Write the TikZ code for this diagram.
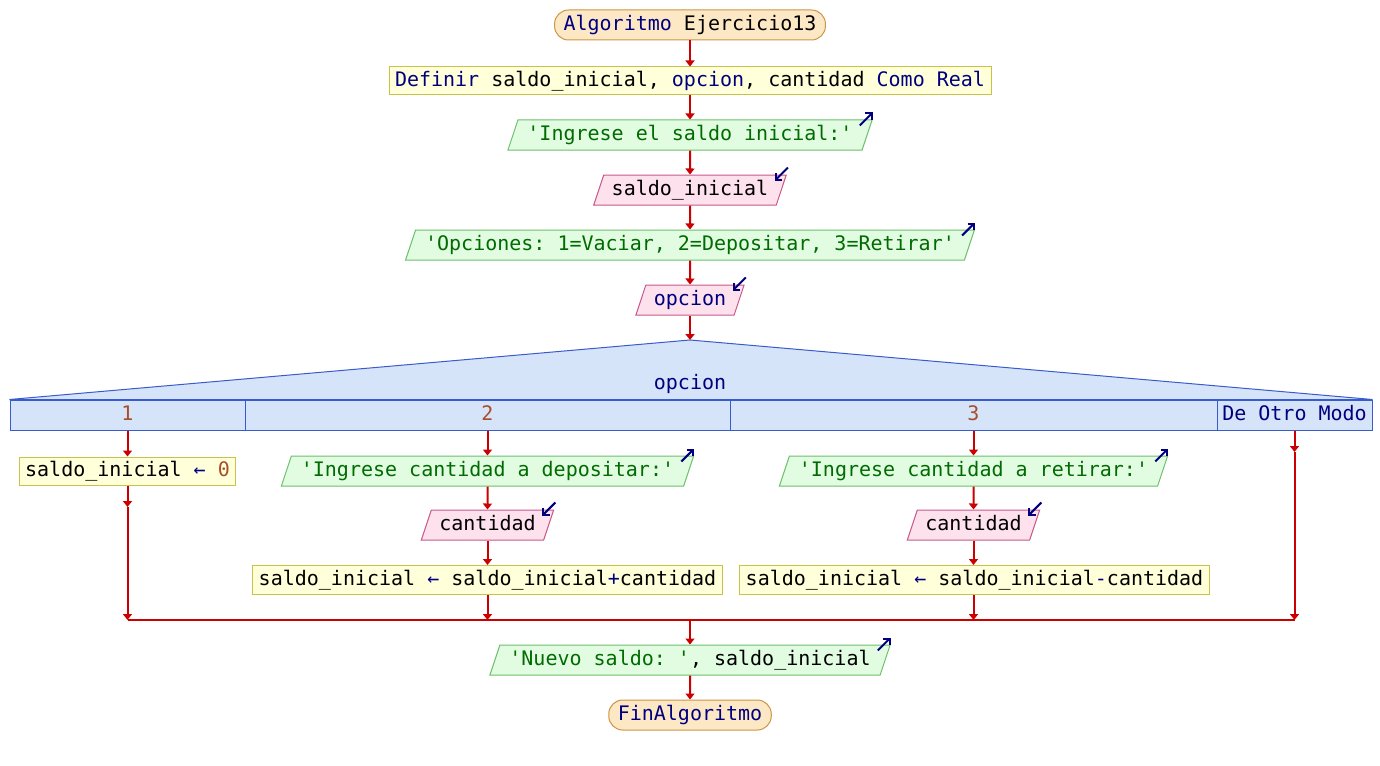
\documentclass[tikz,border=0pt]{standalone}
\usepackage{fontspec}
\setmonofont{DejaVu Sans Mono}
\usetikzlibrary{shapes.geometric,arrows.meta,calc}
\definecolor{kw}{HTML}{00007F}
\definecolor{str}{HTML}{006B00}
\definecolor{num}{HTML}{A5502A}
\definecolor{termF}{HTML}{FDE8C6}
\definecolor{termB}{HTML}{CC9544}
\definecolor{procF}{HTML}{FFFFDA}
\definecolor{procB}{HTML}{C8C24A}
\definecolor{ioF}{HTML}{E2FCE2}
\definecolor{ioB}{HTML}{6CC06C}
\definecolor{inF}{HTML}{FDE2EE}
\definecolor{inB}{HTML}{C8588A}
\definecolor{swF}{HTML}{D6E4FA}
\definecolor{swB}{HTML}{3A5BCC}
\definecolor{lnC}{HTML}{CC0000}
\newcommand\outico[1]{\draw[ico] ($(#1.top right corner)+(-13,6)$) -- ($(#1.top right corner)+(0,-7)$);}
\newcommand\inico[1]{\draw[ico] ($(#1.top right corner)+(1,-7)$) -- ($(#1.top right corner)+(-12,6)$);}
\begin{document}
\begin{tikzpicture}[x=1pt,y=-1pt,
  every node/.style={font=\ttfamily\fontsize{20}{24}\selectfont, text height=15pt, text depth=4.5pt},
  term/.style={draw=termB, fill=termF, line width=1pt, rounded corners=14pt, inner xsep=9pt, inner ysep=0pt, minimum height=30pt},
  proc/.style={draw=procB, fill=procF, line width=1pt, inner xsep=6pt, inner ysep=0pt, minimum height=28pt},
  io/.style={trapezium, trapezium left angle=71.57, trapezium right angle=108.43, draw=ioB, fill=ioF, line width=1pt, inner xsep=9.5pt, inner ysep=5.25pt},
  inp/.style={trapezium, trapezium left angle=71.57, trapezium right angle=108.43, draw=inB, fill=inF, line width=1pt, inner xsep=8pt, inner ysep=5.25pt},
  cell/.style={draw=swB, fill=swF, line width=1pt, inner sep=0pt, minimum height=30pt},
  arr/.style={draw=lnC, line width=2pt, -{Triangle[width=9pt,length=6pt]}},
  ln/.style={draw=lnC, line width=2pt},
  ico/.style={draw=kw, line width=2pt, -{Straight Barb[length=4.5pt,width=9pt]}}
]
\useasboundingbox (0,0) rectangle (1380,765);
\fill[white] (0,0) rectangle (1380,765);

% main column
\node[term] (start) at (690,25) {{\color{kw}Algoritmo} Ejercicio13};
\node[proc] (def) at (690,81) {{\color{kw}Definir} saldo\_inicial, {\color{kw}opcion}, cantidad {\color{kw}Como Real}};
\node[io] (o1) at (690,135) {{\color{str}'Ingrese el saldo inicial:'}};
\node[inp] (i1) at (690,190) {saldo\_inicial};
\node[io] (o2) at (690,245) {{\color{str}'Opciones: 1=Vaciar, 2=Depositar, 3=Retirar'}};
\node[inp] (i2) at (690,300) {{\color{kw}opcion}};
\coordinate (apex) at (690,340);

% switch
\node[cell, minimum width=235pt] (c1) at (127.5,415) {{\color{num}1}};
\node[cell, minimum width=485pt] (c2) at (487.5,415) {{\color{num}2}};
\node[cell, minimum width=487pt] (c3) at (973.5,415) {{\color{num}3}};
\node[cell, minimum width=155pt] (c4) at (1294.5,415) {{\color{kw}De Otro Modo}};
\filldraw[draw=swB, fill=swF, line width=1pt] (c1.north west) -- (apex) -- (c4.north east) -- cycle;
\node[text=kw] (sw) at (690,384) {opcion};

% column 1
\node[proc] (a1) at (127.5,471) {saldo\_inicial {\color{kw}←} {\color{num}0}};
% column 2
\node[io] (o3) at (487.5,471) {{\color{str}'Ingrese cantidad a depositar:'}};
\node[inp] (i3) at (487.5,525) {cantidad};
\node[proc, minimum height=29pt] (a2) at (487.5,580) {saldo\_inicial {\color{kw}←} saldo\_inicial{\color{kw}+}cantidad};
% column 3
\node[io] (o4) at (973.5,471) {{\color{str}'Ingrese cantidad a retirar:'}};
\node[inp] (i4) at (973.5,525) {cantidad};
\node[proc, minimum height=29pt] (a3) at (974.5,580) {saldo\_inicial {\color{kw}←} saldo\_inicial{\color{kw}-}cantidad};

% end
\node[io] (o5) at (690,660) {{\color{str}'Nuevo saldo: '}, saldo\_inicial};
\node[term] (fin) at (690,715) {{\color{kw}FinAlgoritmo}};

% icons
\outico{o1}
\inico{i1}
\outico{o2}
\inico{i2}
\outico{o3}
\inico{i3}
\outico{o4}
\inico{i4}
\outico{o5}

% coordinates
\coordinate (m1) at (127.5,507);
\coordinate (j1) at (127.5,620);
\coordinate (j2) at (487.5,620);
\coordinate (j3) at (973.5,620);
\coordinate (m4) at (1294.5,452);
\coordinate (j4) at (1294.5,620);
\coordinate (jc) at (690,620);

% connectors
\draw[arr] (start) -- (def);
\draw[arr] (def) -- (o1);
\draw[arr] (o1) -- (i1);
\draw[arr] (i1) -- (o2);
\draw[arr] (o2) -- (i2);
\draw[arr] (i2) -- (apex);

\draw[arr] (c1) -- (a1);
\draw[arr] (a1) -- (m1);
\draw[arr] (m1) -- (j1);

\draw[arr] (c2) -- (o3);
\draw[arr] (o3) -- (i3);
\draw[arr] (i3) -- (a2);
\draw[arr] (a2.south -| j2) -- (j2);

\draw[arr] (c3) -- (o4);
\draw[arr] (o4) -- (i4);
\draw[arr] (i4) -- (a3.north -| i4);
\draw[arr] (a3.south -| j3) -- (j3);

\draw[arr] (c4) -- (m4);
\draw[arr] (m4) -- (j4);

\draw[ln] (j1) -- (j4);
\draw[arr] (jc) -- (o5);
\draw[arr] (o5) -- (fin);
\end{tikzpicture}
\end{document}
